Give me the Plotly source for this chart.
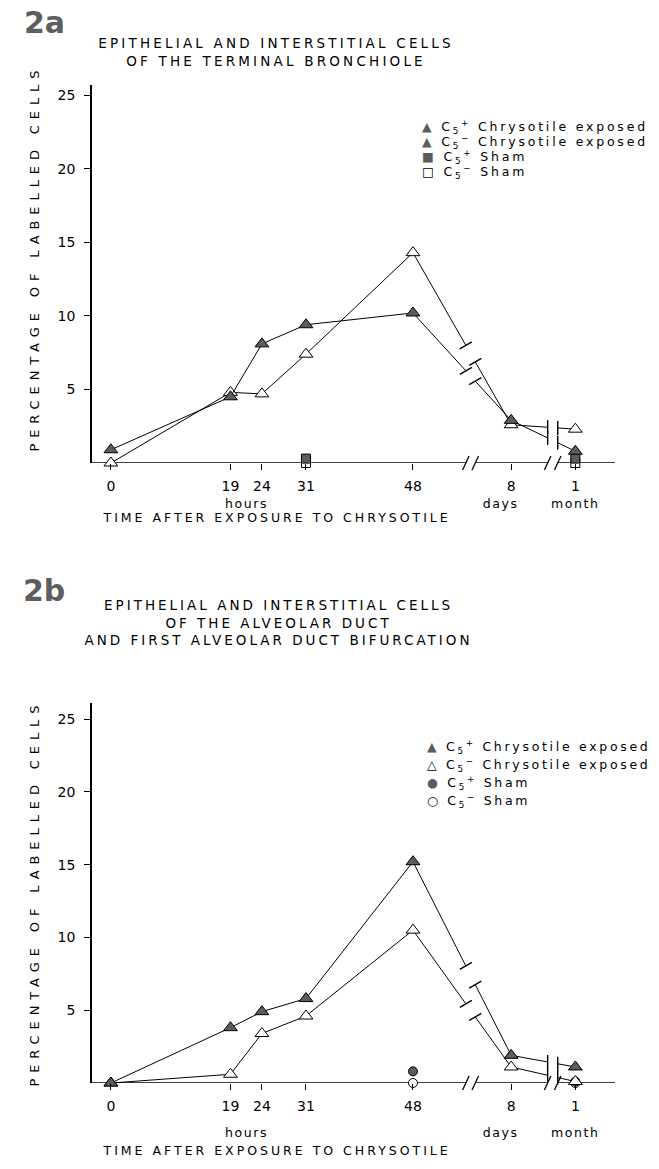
import numpy as np
import plotly.graph_objects as go

# ---------------- data ----------------
time_labels = ["0", "19", "24", "31", "48", "8", "1"]
time_pos = [0, 19, 24, 31, 48, 63.6, 73.8]      # positions on the broken time axis
breaks = [(56.4, 57.9), (69.4, 71.0)]           # axis breaks (48h -> 8 days, 8 days -> 1 month)

# Panel 2a : terminal bronchiole
a_c5p_exposed = [0.9, 4.5, 8.1, 9.4, 10.2, 2.9, 0.8]
a_c5m_exposed = [0.0, 4.8, 4.7, 7.4, 14.3, 2.6, 2.3]
a_sham_idx = [3, 6]
a_c5p_sham = [0.3, 0.3]
a_c5m_sham = [0.0, 0.0]

# Panel 2b : alveolar duct and first alveolar duct bifurcation
b_c5p_exposed = [0.0, 3.8, 4.9, 5.8, 15.2, 1.9, 1.1]
b_c5m_exposed = [0.0, 0.6, 3.4, 4.6, 10.5, 1.1, 0.1]
b_sham_idx = [4, 6]
b_c5p_sham = [0.8, 0.1]
b_c5m_sham = [0.0, 0.0]

y_ticks = [5, 10, 15, 20, 25]

FONT = "DejaVu Sans"
FILL = "#5c5c5c"
W, H = 659, 1169

fig = go.Figure()


def broken_line(xs, ys):
    """Line path through the data with gaps at the axis breaks."""
    xs = list(xs)
    ys = list(ys)
    px, py, ends_x, ends_y, ends_k = [], [], [], [], []
    for i in range(len(xs)):
        px.append(xs[i]); py.append(ys[i])
        if i < len(xs) - 1:
            for k, (b0, b1) in enumerate(breaks):
                if xs[i] < b0 and xs[i + 1] > b1:
                    y0 = float(np.interp(b0, xs, ys))
                    y1 = float(np.interp(b1, xs, ys))
                    px += [b0, None, b1]
                    py += [y0, None, y1]
                    ends_x += [b0, b1]; ends_y += [y0, y1]; ends_k += [k, k]
    return px, py, ends_x, ends_y, ends_k


def add_series(xa, ya, vals, filled, symbol="triangle-up"):
    lx, ly, ex, ey, ek = broken_line(time_pos, vals)
    fig.add_trace(go.Scatter(x=lx, y=ly, xaxis=xa, yaxis=ya, mode="lines",
                             line=dict(color="black", width=1), showlegend=False,
                             hoverinfo="skip", connectgaps=False, cliponaxis=False))
    # small end bars at the breaks (roughly perpendicular to the line)
    angles = [60 if k == 0 else 0 for k in ek]
    fig.add_trace(go.Scatter(x=ex, y=ey, xaxis=xa, yaxis=ya, mode="markers",
                             marker=dict(symbol="line-ns", size=10, angle=angles,
                                         line=dict(color="black", width=1.4)),
                             showlegend=False, hoverinfo="skip", cliponaxis=False))
    fig.add_trace(go.Scatter(x=time_pos, y=vals, xaxis=xa, yaxis=ya, mode="markers",
                             marker=dict(symbol=symbol, size=12,
                                         color=FILL if filled else "white",
                                         line=dict(color="black", width=1)),
                             showlegend=False, cliponaxis=False))


def add_sham(xa, ya, idx, vals, filled, symbol):
    fig.add_trace(go.Scatter(x=[time_pos[i] for i in idx], y=vals, xaxis=xa, yaxis=ya,
                             mode="markers",
                             marker=dict(symbol=symbol, size=9,
                                         color=FILL if filled else "white",
                                         line=dict(color="black", width=1)),
                             showlegend=False, cliponaxis=False))


# panel a
add_sham("x", "y", a_sham_idx, a_c5m_sham, False, "square")
add_sham("x", "y", a_sham_idx, a_c5p_sham, True, "square")
add_series("x", "y", a_c5m_exposed, False)
add_series("x", "y", a_c5p_exposed, True)
# panel b
add_sham("x2", "y2", b_sham_idx, b_c5m_sham, False, "circle")
add_sham("x2", "y2", b_sham_idx, b_c5p_sham, True, "circle")
add_series("x2", "y2", b_c5m_exposed, False)
add_series("x2", "y2", b_c5p_exposed, True)

# axis break slashes on the time axis
for xa, ya in (("x", "y"), ("x2", "y2")):
    sx = [b for pair in breaks for b in pair]
    fig.add_trace(go.Scatter(x=sx, y=[0] * len(sx), xaxis=xa, yaxis=ya, mode="markers",
                             marker=dict(symbol="line-ns", size=11, angle=25,
                                         line=dict(color="black", width=1.3)),
                             showlegend=False, hoverinfo="skip", cliponaxis=False))

x_range = [-3, 80.1]
shapes = []
for xa, ya in (("x", "y"), ("x2", "y2")):
    seg = [x_range[0]] + [b for pair in breaks for b in pair] + [x_range[1]]
    for i in range(0, len(seg), 2):
        shapes.append(dict(type="line", xref=xa, yref=ya, x0=seg[i], x1=seg[i + 1],
                           y0=0, y1=0, line=dict(color="black", width=1.5), layer="below"))


def px_x(p):
    return p / W


def px_y(p):
    return 1 - p / H


xdom = [px_x(92), px_x(615)]
axis_common = dict(showgrid=False, zeroline=False, ticks="outside", ticklen=6,
                   tickcolor="black", tickwidth=1.3,
                   tickfont=dict(family=FONT, size=14, color="black"))

fig.update_layout(
    width=W, height=H, margin=dict(l=0, r=0, t=0, b=0),
    paper_bgcolor="white", plot_bgcolor="white", showlegend=False,
    font=dict(family=FONT, color="black"),
    xaxis=dict(domain=xdom, range=x_range, anchor="y", tickvals=time_pos,
               ticktext=time_labels, showline=False, ticklabelstandoff=4, **axis_common),
    yaxis=dict(domain=[px_y(463), px_y(85)], range=[0, 25.7], anchor="x",
               tickvals=y_ticks, showline=True, linecolor="black", linewidth=1.5,
               ticklabelstandoff=6, **axis_common),
    xaxis2=dict(domain=xdom, range=x_range, anchor="y2", tickvals=time_pos,
                ticktext=time_labels, showline=False, ticklabelstandoff=4, **axis_common),
    yaxis2=dict(domain=[px_y(1083), px_y(703)], range=[0, 26.1], anchor="x2",
                tickvals=y_ticks, showline=True, linecolor="black", linewidth=1.5,
                ticklabelstandoff=6, **axis_common),
    shapes=shapes,
)

annotations = []
spacing = {}


def ann(text, x, y, size, spc=0.0, angle=0, xanchor="center", align="center",
        color="black", bold=False, xref="paper"):
    spacing[len(annotations)] = spc
    annotations.append(dict(
        text=("<b>%s</b>" % text) if bold else text,
        x=x if xref != "paper" else px_x(x), xref=xref,
        y=px_y(y), yref="paper", showarrow=False, textangle=angle,
        xanchor=xanchor, yanchor="middle", align=align,
        font=dict(family=FONT, size=size, color=color)))


sub = "C<sub>5</sub><sup>%s</sup>"

# ---- panel a texts
ann("2a", 44, 22, 30, 0, color="#5e5e5e", bold=True)
ann("EPITHELIAL AND INTERSTITIAL CELLS<br>OF THE TERMINAL BRONCHIOLE", 276, 52, 13.5, 3.2)
ann("PERCENTAGE OF LABELLED CELLS", 34, 258, 13, 5.9, angle=-90)
ann("TIME AFTER EXPOSURE TO CHRYSOTILE", 276, 517, 12.5, 3.0)
ann("hours", 21.5, 503, 12.5, 1.6, xref="x")
ann("days", 62.0, 503, 12.5, 1.6, xref="x")
ann("month", 73.8, 503, 12.5, 1.6, xref="x")
leg_a = [("<span style='color:%s'>▲</span>" % FILL, "+", "Chrysotile exposed"),
         ("<span style='color:%s'>▲</span>" % FILL, "−", "Chrysotile exposed"),
         ("<span style='color:%s'>■</span>" % FILL, "+", "Sham"),
         ("□", "−", "Sham")]
for i, (sym, sg, lab) in enumerate(leg_a):
    ann("%s %s %s" % (sym, sub % sg, lab), 420, 127 + 15 * i, 12.5, 2.8,
        xanchor="left", align="left")

# ---- panel b texts
ann("2b", 44, 590, 30, 0, color="#5e5e5e", bold=True)
ann("EPITHELIAL AND INTERSTITIAL CELLS<br>OF THE ALVEOLAR DUCT<br>AND FIRST ALVEOLAR DUCT BIFURCATION",
    278, 622, 13.5, 3.0)
ann("PERCENTAGE OF LABELLED CELLS", 34, 893, 13, 5.9, angle=-90)
ann("TIME AFTER EXPOSURE TO CHRYSOTILE", 276, 1150, 12.5, 3.0)
ann("hours", 21.5, 1132, 12.5, 1.6, xref="x2")
ann("days", 62.0, 1132, 12.5, 1.6, xref="x2")
ann("month", 73.8, 1132, 12.5, 1.6, xref="x2")
leg_b = [("<span style='color:%s'>▲</span>" % FILL, "+", "Chrysotile exposed"),
         ("△", "−", "Chrysotile exposed"),
         ("<span style='color:%s'>●</span>" % FILL, "+", "Sham"),
         ("○", "−", "Sham")]
for i, (sym, sg, lab) in enumerate(leg_b):
    ann("%s %s %s" % (sym, sub % sg, lab), 425, 747 + 18 * i, 12.5, 2.7,
        xanchor="left", align="left")

fig.update_layout(annotations=annotations)

css = "html,body{margin:0;padding:0;} " + " ".join(
    '.annotation[data-index=\"%d\"] text {letter-spacing:%.1fpx;}' % (i, s)
    for i, s in spacing.items() if s)
post = "var st=document.createElement('style');st.innerHTML='%s';document.head.appendChild(st);" % css

fig.write_html("out.html", post_script=post, config={"displayModeBar": False})
